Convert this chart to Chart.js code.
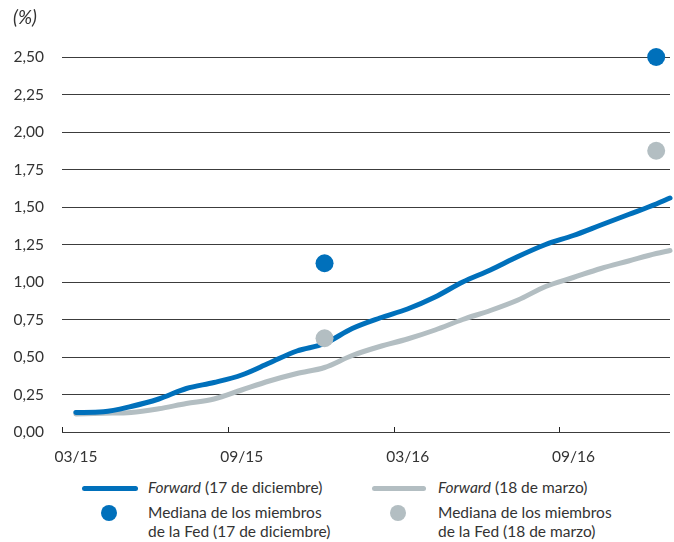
<!DOCTYPE html>
<html>
<head>
<meta charset="utf-8">
<script src="https://cdn.jsdelivr.net/npm/chart.js@4.4.0/dist/chart.umd.min.js"></script>
<style>
  body { margin: 0; background: #fff; font-family: Lato, "Open Sans", sans-serif; color: #333; }
  #wrap { position: relative; width: 674px; height: 542px; }
  #chart { position: absolute; left: 0; top: 0; }
  #unit { position: absolute; left: 13px; top: 5px; font-style: italic; font-size: 19px; }
  .leg { position: absolute; font-size: 15.5px; line-height: 19px; white-space: nowrap; }
  .swLine { position: absolute; height: 5px; border-radius: 3px; }
  .swDot { position: absolute; width: 16px; height: 16px; border-radius: 50%; }
</style>
</head>
<body>
<div id="wrap">
  <canvas id="chart" width="674" height="470"></canvas>
  <div id="unit">(%)</div>
  <div id="legend"></div>
</div>
<script>
// months counted from 1 March 2015
const months = [0.5, 1.5, 2.5, 3.5, 4.5, 5.5, 6.5, 7.5, 8.5, 9.5, 10.5, 11.5,
                12.5, 13.5, 14.5, 15.5, 16.5, 17.5, 18.5, 19.5, 20.5, 21.5, 22];
const forwardDic = [0.13, 0.135, 0.17, 0.22, 0.29, 0.33, 0.38, 0.46, 0.54, 0.59, 0.69, 0.76,
                    0.82, 0.90, 1.00, 1.08, 1.17, 1.25, 1.31, 1.38, 1.45, 1.52, 1.56];
const forwardMar = [0.12, 0.125, 0.13, 0.155, 0.19, 0.22, 0.28, 0.34, 0.39, 0.43, 0.51, 0.57,
                    0.62, 0.68, 0.75, 0.81, 0.88, 0.97, 1.03, 1.09, 1.14, 1.19, 1.21];
const dotMonths = [9.5, 21.5];
const medianDic = [1.125, 2.50];
const medianMar = [0.625, 1.875];
const tickMonths = [0, 6, 12, 18];
const tickLabels = ['03/15', '09/15', '03/16', '09/16'];

const BLUE = '#0070bb';
const GREY = '#b3bec2';

const pairs = (xs, ys) => ys.map((y, i) => ({ x: xs[i], y: y }));

// small upward tick marks on the time axis
const axisMarks = {
  id: 'axisMarks',
  afterDatasetsDraw(chart) {
    const ctx = chart.ctx;
    const x = chart.scales.x;
    const bottom = chart.chartArea.bottom;
    ctx.save();
    ctx.strokeStyle = '#222';
    ctx.lineWidth = 1;
    tickMonths.forEach(m => {
      const px = Math.round(x.getPixelForValue(m)) + 0.5;
      ctx.beginPath();
      ctx.moveTo(px, bottom);
      ctx.lineTo(px, bottom - 5);
      ctx.stroke();
    });
    ctx.restore();
  }
};

new Chart(document.getElementById('chart'), {
  type: 'line',
  data: {
    datasets: [
      {
        label: 'Mediana de los miembros de la Fed (17 de diciembre)',
        type: 'scatter',
        data: pairs(dotMonths, medianDic),
        backgroundColor: BLUE,
        pointRadius: 9,
        pointBorderWidth: 0,
        clip: false,
        order: 0
      },
      {
        label: 'Mediana de los miembros de la Fed (18 de marzo)',
        type: 'scatter',
        data: pairs(dotMonths, medianMar),
        backgroundColor: GREY,
        pointRadius: 9,
        pointBorderWidth: 0,
        clip: false,
        order: 0
      },
      {
        label: 'Forward (17 de diciembre)',
        data: pairs(months, forwardDic),
        borderColor: BLUE,
        borderWidth: 5,
        borderCapStyle: 'round',
        pointRadius: 0,
        cubicInterpolationMode: 'monotone',
        clip: { left: 0, top: 0, right: 4, bottom: 0 },
        order: 1
      },
      {
        label: 'Forward (18 de marzo)',
        data: pairs(months, forwardMar),
        borderColor: GREY,
        borderWidth: 5,
        borderCapStyle: 'round',
        pointRadius: 0,
        cubicInterpolationMode: 'monotone',
        clip: { left: 0, top: 0, right: 4, bottom: 0 },
        order: 2
      }
    ]
  },
  options: {
    responsive: false,
    animation: false,
    devicePixelRatio: 1,
    layout: { autoPadding: false, padding: { top: 57, right: 4, left: 0, bottom: 0 } },
    plugins: { legend: { display: false }, tooltip: { enabled: false } },
    scales: {
      x: {
        type: 'linear',
        min: 0,
        max: 22,
        afterBuildTicks: s => { s.ticks = tickMonths.map(v => ({ value: v })); },
        afterFit: s => { s.height = 38; s.paddingLeft = 0; s.paddingRight = 0; },
        grid: { display: false },
        border: { display: false },
        ticks: {
          callback: v => tickLabels[tickMonths.indexOf(v)],
          labelOffset: 14,
          padding: 8,
          maxRotation: 0,
          autoSkip: false,
          color: '#333',
          font: { family: 'Lato', size: 15.5 }
        }
      },
      y: {
        min: 0,
        max: 2.5,
        afterFit: s => { s.width = 62; },
        grid: { color: '#3c3c3c', lineWidth: 1, drawTicks: false },
        border: { display: false },
        ticks: {
          stepSize: 0.25,
          padding: 18,
          callback: v => v.toFixed(2).replace('.', ','),
          color: '#333',
          font: { family: 'Lato', size: 15.5 }
        }
      }
    }
  },
  plugins: [axisMarks]
});

// legend below the plot
const legendItems = [
  { kind: 'line', color: BLUE, x: 82, y: 486, w: 56, tx: 148, ty: 478, html: '<i>Forward</i> (17 de diciembre)' },
  { kind: 'line', color: GREY, x: 372, y: 486, w: 54, tx: 438, ty: 478, html: '<i>Forward</i> (18 de marzo)' },
  { kind: 'dot', color: BLUE, x: 101, y: 505, tx: 148, ty: 503, html: 'Mediana de los miembros<br>de la Fed (17 de diciembre)' },
  { kind: 'dot', color: GREY, x: 390, y: 505, tx: 438, ty: 503, html: 'Mediana de los miembros<br>de la Fed (18 de marzo)' }
];
const legend = document.getElementById('legend');
legendItems.forEach(it => {
  const sw = document.createElement('div');
  sw.className = it.kind === 'line' ? 'swLine' : 'swDot';
  sw.style.left = it.x + 'px';
  sw.style.top = it.y + 'px';
  if (it.kind === 'line') sw.style.width = it.w + 'px';
  sw.style.background = it.color;
  legend.appendChild(sw);
  const t = document.createElement('div');
  t.className = 'leg';
  t.style.left = it.tx + 'px';
  t.style.top = it.ty + 'px';
  t.innerHTML = it.html;
  legend.appendChild(t);
});
</script>
</body>
</html>
